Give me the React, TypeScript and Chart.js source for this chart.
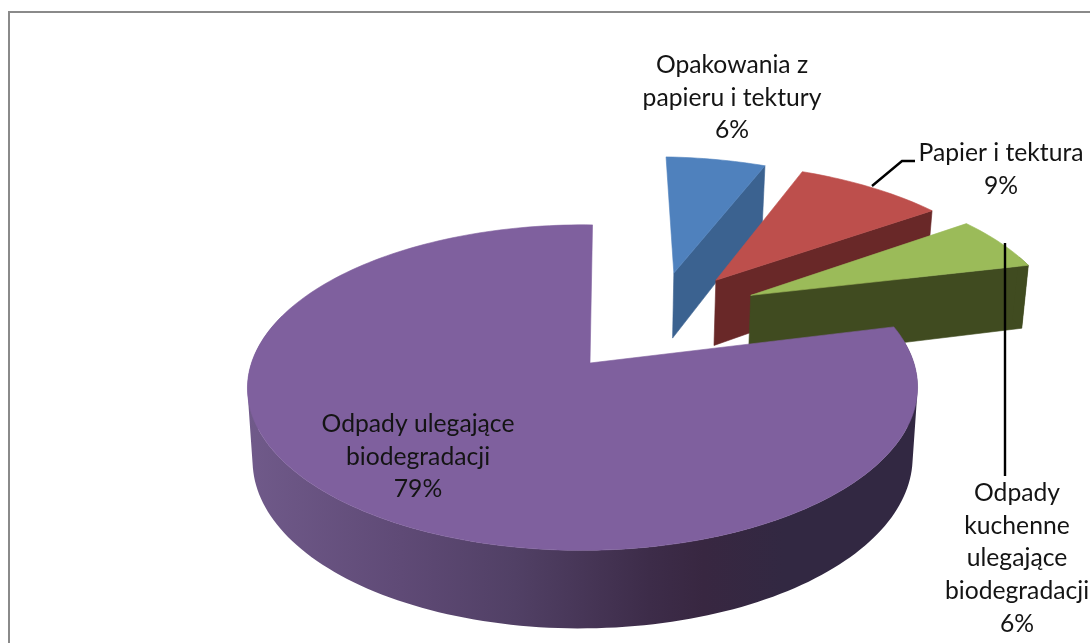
import React, { useEffect, useRef } from "react";
import { Chart, ArcElement, PieController, registerables } from "chart.js";

const sliceNames = ["Opakowania z papieru i tektury", "Papier i tektura", "Odpady kuchenne ulegające biodegradacji", "Odpady ulegające biodegradacji"];
const sliceValues = [6, 9, 6, 79];
const topColors = ["#4f81bd", "#bd4f4c", "#9bbb59", "#7f609e"];
const sideColors = ["#3b6290", "#692828", "#404b20", "#3a2b4c"];
const explodeX = [0.275, 0.411, 0.518, 0];
const explodeY = [0.622, 0.57, 0.46, 0];
const radiusX = [1, 1, 1, 0.987];
const labelLines = [
  ["Opakowania z", "papieru i tektury"],
  ["Papier i tektura"],
  ["Odpady", "kuchenne", "ulegające", "biodegradacji"],
  ["Odpady ulegające", "biodegradacji"],
];
const labelCentreX = [732, 1001, 1017, 418];
const labelFirstY = [65, 153, 493, 424];
const LINE_HEIGHT = 32.7;
const FONT = '24.7px Lato, "Open Sans", sans-serif';

const CX = 590, CY = 363, RX = 335.4, RY = 159, KY = 0.151, KX = 0.0224;
const BASE_SHRINK = 0.985;

type P = [number, number];
function project(x: number, y: number, lower = false): P {
  const w = 1 + KY * y + KX * x;
  let px = CX + (RX * x) / w;
  let py = CY - (RY * y) / w;
  if (lower) {
    px = CX + (px - CX) * BASE_SHRINK;
    py += 122.2 - 52 * w;
  }
  return [px, py];
}

function addLoop(ctx: CanvasRenderingContext2D, pts: P[]) {
  let area = 0;
  pts.forEach((p, i) => {
    const q = pts[(i + 1) % pts.length];
    area += p[0] * q[1] - q[0] * p[1];
  });
  const loop = area < 0 ? pts.slice().reverse() : pts;
  loop.forEach((p, i) => (i ? ctx.lineTo(p[0], p[1]) : ctx.moveTo(p[0], p[1])));
  ctx.closePath();
}

function polygon(ctx: CanvasRenderingContext2D, pts: P[], fill: string | CanvasGradient) {
  ctx.beginPath();
  addLoop(ctx, pts);
  ctx.fillStyle = fill;
  ctx.fill();
  ctx.strokeStyle = fill;
  ctx.lineWidth = 0.6;
  ctx.stroke();
}

class Arc3D extends ArcElement {
  static id = "arc3d";
  sliceIndex = 0;
  draw(ctx: CanvasRenderingContext2D) {
    const self = this as any;
    const i = self.sliceIndex;
    const ox = explodeX[i], oy = explodeY[i];
    const a0 = self.startAngle + Math.PI / 2;
    const a1 = self.endAngle + Math.PI / 2;
    const steps = Math.max(8, Math.ceil((a1 - a0) * 40));
    const rim: [number, number, number][] = [];
    for (let s = 0; s <= steps; s++) {
      const a = a0 + ((a1 - a0) * s) / steps;
      rim.push([ox + Math.sin(a) * radiusX[i], oy + Math.cos(a), Math.cos(a)]);
    }
    ctx.save();
    const side = sideColors[i];
    const last = rim[rim.length - 1];
    // the closing cut face is the only radial face turned towards the viewer
    if (i !== 3) {
      polygon(ctx, [project(ox, oy), project(last[0], last[1]), project(last[0], last[1], true), project(ox, oy, true)], side);
    }
    // curved outer wall, front-facing part only, one path so that no seams show
    let wall: string | CanvasGradient = side;
    if (i === 3) {
      const g = ctx.createLinearGradient(247, 0, 918, 0);
      g.addColorStop(0, "#705a8a");
      g.addColorStop(0.23, "#5f4a76");
      g.addColorStop(0.4, "#514065");
      g.addColorStop(0.6, "#3d2c49");
      g.addColorStop(0.68, "#382741");
      g.addColorStop(0.8, "#322842");
      g.addColorStop(1, "#322842");
      wall = g;
    }
    ctx.beginPath();
    for (let s = 0; s < steps; s++) {
      const p = rim[s], q = rim[s + 1];
      if (p[2] > 0.3 && q[2] > 0.3) continue;
      addLoop(ctx, [project(p[0], p[1]), project(q[0], q[1]), project(q[0], q[1], true), project(p[0], p[1], true)]);
    }
    ctx.fillStyle = wall;
    ctx.fill("nonzero");
    // top face, in the slice's own colour
    polygon(ctx, [project(ox, oy), ...rim.map((p) => project(p[0], p[1]))], self.options.backgroundColor);
    ctx.restore();
  }
}

class Pie3DController extends PieController {
  static id = "pie3d";
  static defaults = { dataElementType: "arc3d" };
  updateElements(arcs: any[], start: number, count: number, mode: any) {
    super.updateElements(arcs, start, count, mode);
    arcs.forEach((arc, idx) => (arc.sliceIndex = idx));
  }
}

Chart.register(...registerables, Arc3D as any, Pie3DController as any);

const decorations = {
  id: "decorations",
  beforeDraw(chart: any) {
    const ctx = chart.ctx;
    ctx.save();
    ctx.strokeStyle = "#8a8a8a";
    ctx.lineWidth = 2;
    ctx.beginPath();
    ctx.moveTo(9, 650);
    ctx.lineTo(9, 12);
    ctx.lineTo(1100, 12);
    ctx.stroke();
    ctx.restore();
  },
  afterDatasetsDraw(chart: any) {
    const ctx = chart.ctx;
    ctx.save();
    ctx.strokeStyle = "#000";
    ctx.lineWidth = 2.4;
    ctx.beginPath();
    ctx.moveTo(872, 186);
    ctx.lineTo(902, 161);
    ctx.lineTo(915, 161);
    ctx.moveTo(1005, 243);
    ctx.lineTo(1005, 476);
    ctx.stroke();
    ctx.font = FONT;
    ctx.fillStyle = "#141414";
    ctx.textAlign = "center";
    ctx.textBaseline = "middle";
    sliceValues.forEach((v, i) => {
      const lines = [...labelLines[i], v + "%"];
      lines.forEach((t, j) => ctx.fillText(t, labelCentreX[i], labelFirstY[i] + j * LINE_HEIGHT));
    });
    ctx.restore();
  },
};

export default function App() {
  const ref = useRef<HTMLCanvasElement>(null);
  useEffect(() => {
    const chart = new Chart(ref.current as HTMLCanvasElement, {
      type: "pie3d" as any,
      data: {
        labels: sliceNames,
        datasets: [{ data: sliceValues, backgroundColor: topColors, borderWidth: 0 }],
      },
      options: {
        animation: false,
        responsive: false,
        rotation: 0.5,
        plugins: { legend: { display: false }, tooltip: { enabled: false } },
      } as any,
      plugins: [decorations],
    });
    return () => chart.destroy();
  }, []);
  return (
    <canvas
      ref={ref}
      width={1090}
      height={643}
      style={{ position: "fixed", left: 0, top: 0, width: 1090, height: 643, background: "#fff" }}
    />
  );
}
